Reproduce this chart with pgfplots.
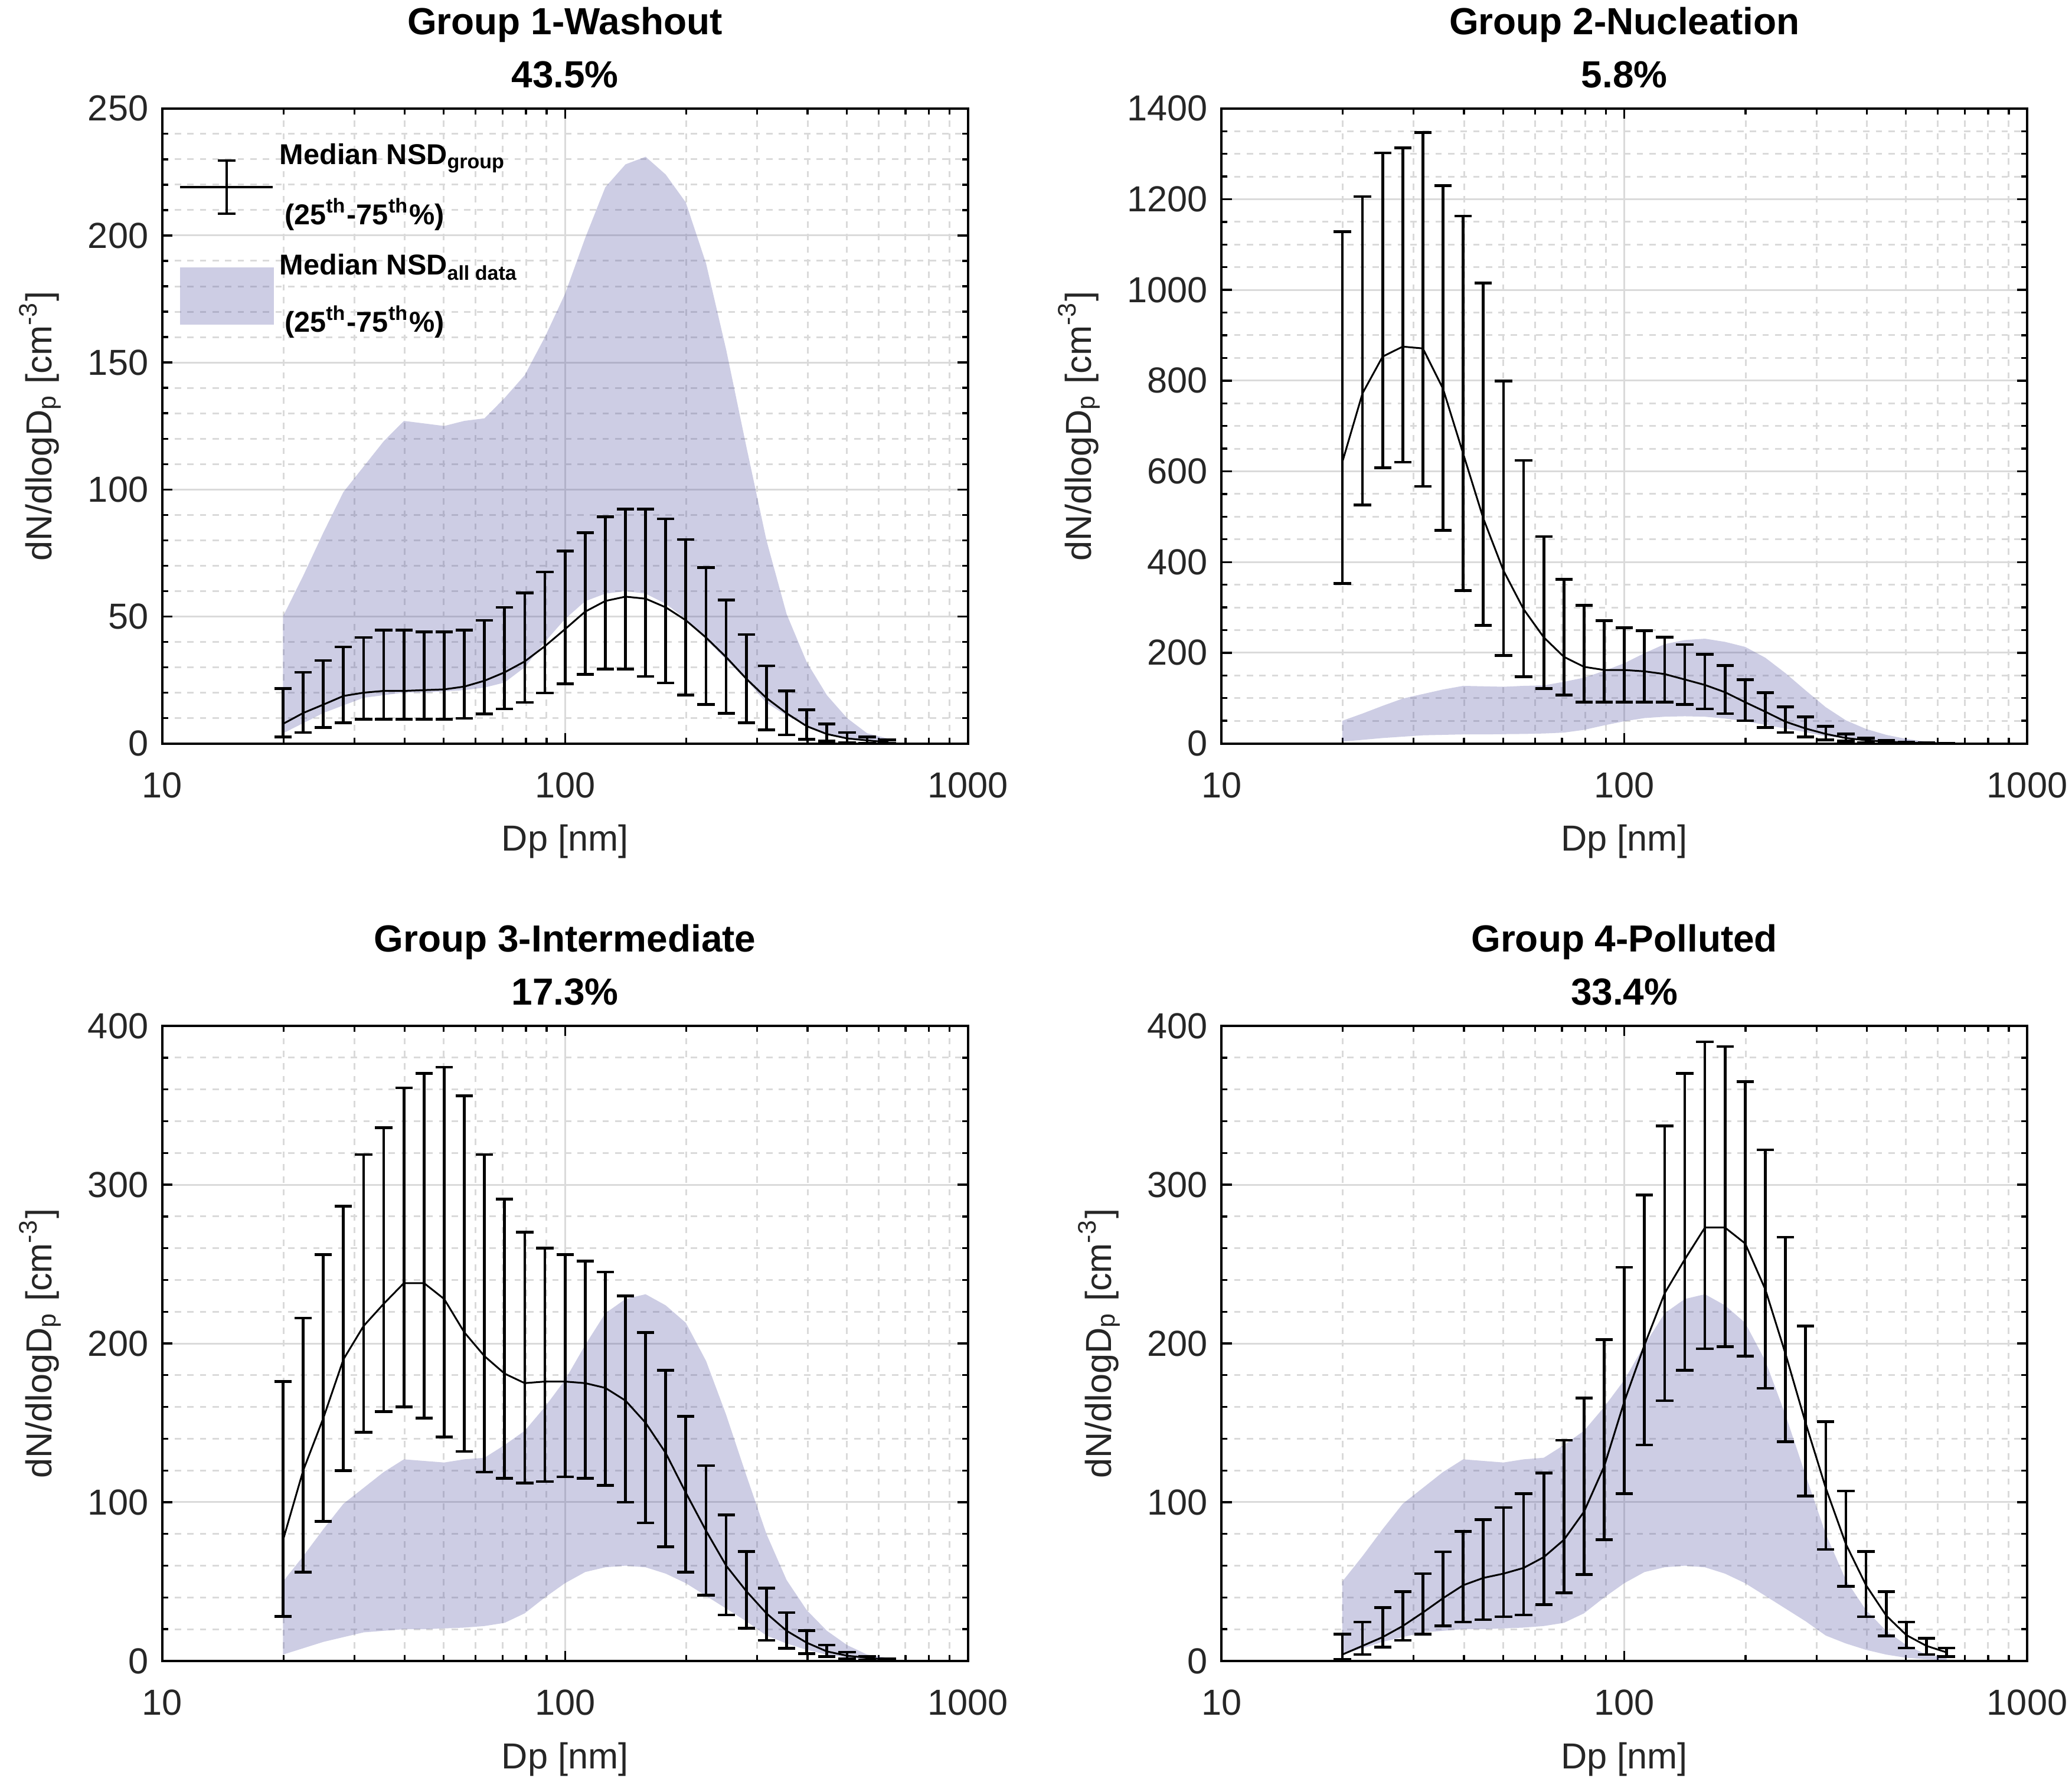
\documentclass[border=0pt]{standalone}
\usepackage{pgfplots}
\pgfplotsset{compat=1.18}
\usepackage{pgfplotstable}
\usepgfplotslibrary{groupplots,fillbetween}
\usepackage{fontspec}
\setmainfont{Liberation Sans}
\definecolor{gridgray}{RGB}{218,218,218}
\definecolor{shadeblue}{RGB}{88,88,165}
\definecolor{txt}{RGB}{38,38,38}

\pgfplotstableread{
x u l
19.95 50 4
22.39 66 8
25.12 83 12
28.18 99 15
31.62 109 18
35.48 119 19
39.81 127 20
44.67 126 20
50.12 125 20.5
56.23 127 21
63.10 128 22
70.79 136 24
79.43 145 30
89.13 160 40
100.0 177 49
112.2 199 56
125.9 219 59
141.3 228 60
158.5 231 59
177.8 224 55
199.5 213 49
223.9 189 41
251.2 155 33
281.8 117 25
316.2 80 16
354.8 51 11
398.1 32 7
446.7 19 4
501.2 10 2
562.3 4 1
631.0 2 0.5
}\shadedata

\pgfplotstableread{
x m lo hi
19.95 7.7 2.6 21.6
22.39 12 4.3 28
25.12 15.3 6.3 32.7
28.18 18.7 8.2 38
31.62 20 9.5 41.7
35.48 20.7 9.5 44.6
39.81 20.7 9.5 44.6
44.67 21 9.5 43.9
50.12 21.3 9.5 43.9
56.23 22.4 9.9 44.6
63.10 24.7 11.6 48.5
70.79 28 13.6 53.6
79.43 32.3 16.2 59.2
89.13 38.3 19.9 67.5
100.0 45 23.5 75.7
112.2 51.9 27.2 83
125.9 56.1 29.3 89.3
141.3 57.8 29.3 92.2
158.5 57 26.4 92.2
177.8 53.6 23.8 88.4
199.5 48.5 19 80.3
223.9 41.7 15.3 69.2
251.2 34 11.9 56.5
281.8 25.5 8.2 42.9
316.2 17.9 5.4 30.6
354.8 11.9 3.4 20.7
398.1 6.8 1.7 13.3
446.7 3.7 0.9 7.7
501.2 2 0.3 4.3
562.3 1.2 0.1 2.6
631.0 0.5 0 1.4
}\gone

\pgfplotstableread{
x m lo hi
19.95 620 353 1128
22.39 772 526 1206
25.12 853 608 1302
28.18 875 620 1313
31.62 871 567 1347
35.48 782 470 1230
39.81 639 337 1163
44.67 496 260 1015
50.12 381 194 799
56.23 296 147 624
63.10 234 121 456
70.79 191 107 362
79.43 169 91 305
89.13 162 91 271
100.0 162 91 255
112.2 159 91 249
125.9 153 91 234
141.3 141 86 218
158.5 129 76 197
177.8 113 66 172
199.5 91 50 141
223.9 70 35 112
251.2 48 24 81
281.8 33 14 59
316.2 21 8 38
354.8 12 5 21
398.1 7 2 12
446.7 4 0.5 7
501.2 2 0.3 3
562.3 1 0 1.5
631.0 0.4 0 0.8
}\gtwo

\pgfplotstableread{
x m lo hi
19.95 76 28 176
22.39 120 56 216
25.12 153 88 256
28.18 190 120 286.5
31.62 211 144 319
35.48 225 157 336
39.81 238 160 361
44.67 238 153 370
50.12 228 141 374
56.23 207 132 356
63.10 192 119 319
70.79 181 115 291
79.43 175 112 270
89.13 176 113 260
100.0 176 116 256
112.2 175 115 252
125.9 172 110.5 245
141.3 164 100 230
158.5 150 87 207
177.8 131 72 183
199.5 106 56 154
223.9 82 41.5 123
251.2 60 29 92
281.8 44 20.5 69
316.2 30 13 46
354.8 19 8 30.5
398.1 11.5 4.6 19
446.7 6 2.7 10
501.2 3.3 1.4 5.5
562.3 2 0.5 3
631.0 0.8 0.2 1.5
}\gthree

\pgfplotstableread{
x m lo hi
19.95 4 1 17
22.39 9.5 4 24.5
25.12 15 8.7 33.5
28.18 22 13 43.6
31.62 30.5 17 55
35.48 39.5 22 68.7
39.81 47.7 24.5 81.7
44.67 52.3 26 89
50.12 55 27.8 96.7
56.23 58.6 29 105.4
63.10 65.4 35.4 118.5
70.79 76.3 42.8 139
79.43 94 54.5 165.7
89.13 122.6 76.3 202.5
100.0 163.5 105.4 248
112.2 199 136 293.5
125.9 231.6 164 337
141.3 253 183 370
158.5 273 196.7 390
177.8 273 198 387
199.5 263 192 365
223.9 234 171.7 322
251.2 193.5 138 267
281.8 150 104 211
316.2 109 70.3 150.7
354.8 73.6 47 107
398.1 47.7 27.8 69
446.7 28.6 15.8 43.6
501.2 16.3 8.2 24.5
562.3 9.5 4 14.4
631.0 5.4 2.7 8.2
}\gfour

\pgfplotsset{
  /pgf/number format/assume math mode=true,
  /pgf/number format/1000 sep={},
  every axis/.append style={
    scale only axis,
    width=204.9pt, height=161.5pt,
    xmode=log, xmin=10, xmax=1000,
    xtick={10,100,1000},
    minor xtick={20,30,40,50,60,70,80,90,200,300,400,500,600,700,800,900},
    log ticks with fixed point,
    ymin=0,
    grid=both,
    major grid style={solid, color=gridgray, line width=0.45pt},
    minor grid style={dash pattern=on 1.6pt off 1.6pt, color=gridgray, line width=0.45pt},
    axis line style={black, line width=0.6pt},
    tick style={black, line width=0.5pt},
    major tick length=2.6pt, minor tick length=1.5pt,
    tick label style={font=\fontsize{9.2}{10}\selectfont, text=txt},
    xticklabel style={yshift=-3.8pt},
    label style={font=\fontsize{9.2}{10}\selectfont, text=txt},
    title style={font=\bfseries\fontsize{9.6}{13.5}\selectfont, align=center, yshift=-4.3pt},
    xlabel={Dp [nm]},
    ylabel={dN/dlogD\textsubscript{p} [cm\textsuperscript{-3}]},
  },
  errplot/.style={black, line width=0.45pt, mark=none,
    error bars/.cd, y dir=both, y explicit,
    error bar style={line width=0.7pt, black},
    error mark options={rotate=90, mark size=2.2pt, line width=0.7pt, black}},
}

\begin{document}
\begin{tikzpicture}
\begin{groupplot}[group style={group size=2 by 2, horizontal sep=64.5pt, vertical sep=71.85pt}]

\nextgroupplot[title={Group 1-Washout\\43.5\%}, ymax=250, ytick={0,50,100,150,200,250}, minor y tick num=4,
  legend style={at={(axis description cs:0.02,0.955)}, anchor=north west, draw=none, fill=none,
    font=\bfseries\fontsize{7.3}{8}\selectfont, row sep=3pt, inner sep=0pt,
    nodes={inner sep=1.5pt}},
  legend cell align=left]
\addplot[name path=U, draw=none, forget plot] table[x=x, y=u] {\shadedata};
\addplot[name path=L, draw=none, forget plot] table[x=x, y=l] {\shadedata};
\addplot[legend image code/.code={
    \draw[black, line width=0.6pt] (0pt,0pt) -- (23.5pt,0pt);
    \draw[black, line width=0.6pt] (11.75pt,-6.7pt) -- (11.75pt,6.7pt);
    \draw[black, line width=0.6pt] (9.5pt,6.7pt) -- (14pt,6.7pt);
    \draw[black, line width=0.6pt] (9.5pt,-6.7pt) -- (14pt,-6.7pt);}, errplot]
  table[x=x, y=m, y error plus expr=\thisrow{hi}-\thisrow{m}, y error minus expr=\thisrow{m}-\thisrow{lo}] {\gone};
\addlegendentry[align=left]{Median NSD\textsubscript{group}\\[5.5pt]\,(25\textsuperscript{th}-75\textsuperscript{th}\%)}
\addplot[fill=shadeblue, fill opacity=0.3, draw=none, legend image code/.code={
    \fill[shadeblue, fill opacity=0.3] (0pt,-7.3pt) rectangle (23.8pt,7.3pt);}]
  fill between[of=U and L];
\addlegendentry[align=left]{Median NSD\textsubscript{all data}\\[5.5pt]\,(25\textsuperscript{th}-75\textsuperscript{th}\%)}

\nextgroupplot[title={Group 2-Nucleation\\5.8\%}, ymax=1400, ytick={0,200,400,600,800,1000,1200,1400}, minor y tick num=3]
\addplot[name path=U, draw=none, forget plot] table[x=x, y=u] {\shadedata};
\addplot[name path=L, draw=none, forget plot] table[x=x, y=l] {\shadedata};
\addplot[errplot] table[x=x, y=m, y error plus expr=\thisrow{hi}-\thisrow{m}, y error minus expr=\thisrow{m}-\thisrow{lo}] {\gtwo};
\addplot[fill=shadeblue, fill opacity=0.3, draw=none] fill between[of=U and L];

\nextgroupplot[title={Group 3-Intermediate\\17.3\%}, ymax=400, ytick={0,100,200,300,400}, minor y tick num=4]
\addplot[name path=U, draw=none, forget plot] table[x=x, y=u] {\shadedata};
\addplot[name path=L, draw=none, forget plot] table[x=x, y=l] {\shadedata};
\addplot[errplot] table[x=x, y=m, y error plus expr=\thisrow{hi}-\thisrow{m}, y error minus expr=\thisrow{m}-\thisrow{lo}] {\gthree};
\addplot[fill=shadeblue, fill opacity=0.3, draw=none] fill between[of=U and L];

\nextgroupplot[title={Group 4-Polluted\\33.4\%}, ymax=400, ytick={0,100,200,300,400}, minor y tick num=4]
\addplot[name path=U, draw=none, forget plot] table[x=x, y=u] {\shadedata};
\addplot[name path=L, draw=none, forget plot] table[x=x, y=l] {\shadedata};
\addplot[errplot] table[x=x, y=m, y error plus expr=\thisrow{hi}-\thisrow{m}, y error minus expr=\thisrow{m}-\thisrow{lo}] {\gfour};
\addplot[fill=shadeblue, fill opacity=0.3, draw=none] fill between[of=U and L];

\end{groupplot}
\pgfresetboundingbox
\useasboundingbox ([xshift=-41.25pt,yshift=27.6pt]group c1r1.north west) rectangle ([xshift=11.4pt,yshift=-30.75pt]group c2r2.south east);
\end{tikzpicture}
\end{document}
